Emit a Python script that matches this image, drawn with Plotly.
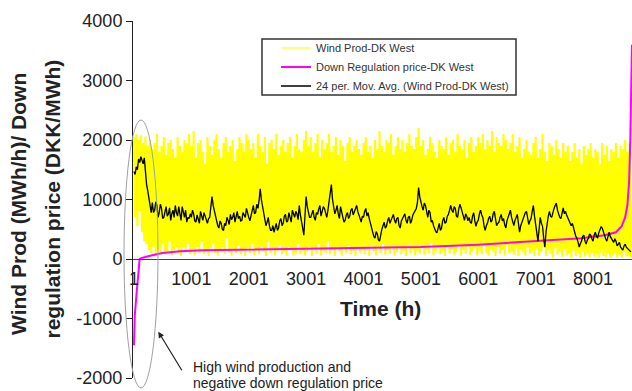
import plotly.graph_objects as go

# ---------------- data ----------------
bin_hours = list(range(1, 8680, 40))  # 40-hour bins across the year

wind_peaks = [
    2050, 2100, 2000, 2080, 1950, 2060, 1900, 2000, 1850, 1950, 2100, 1800, 1900, 2050, 1750, 1950, 2000, 1850, 1700, 2050, 1900, 1800, 2000, 1950, 2100,
    1900, 2150, 1700, 1950, 2000, 1800, 1600, 2050, 1900, 1750, 2000, 2100, 1850, 1700, 1950, 2050, 1800, 1900, 2000, 1650, 1850, 2050, 1950, 1800, 2100,
    2000, 1850, 1950, 1700, 2100, 1900, 1800, 2050, 1600, 1950, 2000, 1850, 2100, 1750, 1900, 2000, 1800, 1950, 2050, 1700, 1900, 2100, 1850, 1800, 2000,
    2150, 1900, 2050, 1800, 1950, 2100, 1700, 2000, 1850, 1950, 2100, 1800, 1900, 2050, 1750, 2000, 1900, 1650, 1950, 2050, 1800, 1900, 2000, 1850, 1750,
    1950, 2050, 1800, 1900, 1700, 2000, 1850, 2150, 1900, 1800, 2000, 1950, 2100, 1750, 1900, 2050, 1850, 2000, 1800, 1950, 2100, 1900, 1850, 2050, 2200,
    1900, 2000, 1750, 1850, 2050, 1950, 1800, 1700, 2000, 1900, 1850, 2050, 1750, 1950, 2000, 1800, 2100, 1900, 1850, 2000, 1700, 1950, 2050, 1800, 1900,
    2050, 1950, 2100, 1850, 2000, 1900, 2150, 1800, 2050, 1950, 1900, 2100, 2000, 1850, 1950, 2100, 1800, 1900, 2050, 1700, 1850, 2000, 1800, 1750, 1950,
    2050, 1700, 1850, 2100, 1800, 1650, 1950, 1900, 1750, 2000, 1850, 1700, 1950, 1800, 1900, 1650, 1800, 1950, 1700, 1850, 1600, 1900, 1750, 1850, 1950,
    1700, 1850, 1800, 1600, 1950, 1750, 1900, 1650, 1850, 1800, 1950, 1700, 1900, 1850, 2000, 1800, 1950,
]

wind_troughs = [
    700, 550, 800, 450, 300, 250, 150, 100, 200, 50, 150, 100, 250, 80, 120, 300, 60, 150, 200, 100, 50, 180, 120, 250, 80,
    150, 60, 200, 100, 300, 80, 120, 50, 180, 250, 100, 60, 150, 200, 80, 350, 120, 60, 150, 100, 220, 80, 140, 50, 180,
    100, 250, 60, 150, 80, 200, 120, 50, 300, 100, 180, 60, 140, 220, 80, 120, 50, 200, 150, 60, 100, 250, 80, 140, 60,
    120, 200, 50, 160, 90, 250, 60, 140, 100, 300, 80, 150, 50, 200, 120, 60, 180, 100, 220, 80, 140, 60, 200, 100, 150,
    80, 160, 50, 220, 120, 60, 180, 100, 250, 70, 150, 90, 200, 60, 120, 180, 80, 140, 50, 220, 100, 160, 60, 130, 90,
    200, 70, 150, 100, 260, 60, 130, 180, 80, 140, 50, 210, 100, 160, 70, 120, 240, 60, 150, 90, 200, 70, 130, 180, 60,
    140, 80, 220, 100, 60, 170, 120, 50, 200, 90, 150, 60, 240, 100, 130, 70, 180, 50, 160, 110, 60, 200, 90, 140, 50,
    170, 60, 120, 200, 50, 150, 90, 30, 180, 70, 120, 40, 160, 60, 100, 30, 140, 50, 90, 20, 120, 40, 80, 30, 100,
    40, 80, 20, 110, 50, 30, 90, 20, 60, 100, 30, 70, 20, 120, 40, 60, 30,
]

# 24-h moving average, read at the start of each bin ...
moving_avg = [
    1470, 1550, 1680, 1720, 1600, 1400, 1150, 850,
    950, 820, 900, 780, 850, 700, 880, 760, 650, 820, 900, 720, 760, 880, 700, 620, 680,
    700, 760, 620, 680, 800, 650, 720, 600, 700, 1050, 800, 650, 520, 600, 480, 560, 650, 750, 700, 620, 800, 720, 650, 750, 850, 700,
    720, 900, 780, 850, 1180, 900, 700, 620, 560, 480, 450, 600, 520, 680, 600, 750, 640, 700, 820, 700, 760, 900, 650, 400, 1050, 800,
    700, 820, 650, 750, 900, 780, 850, 700, 950, 1250, 900, 820, 760, 880, 700, 650, 780, 720, 850, 800, 900, 750, 620, 700, 850, 780,
    600, 450, 350, 420, 300, 500, 620, 550, 700, 650,
    750, 600, 700, 520, 680, 760, 600, 720, 650, 780, 850,
    1200,
    950, 820, 900, 700, 780, 650,
    500, 440, 600, 520, 700, 620, 750,
    900, 780, 850, 700, 920, 800, 650, 720,
    700, 600, 780, 550, 650, 820, 700, 480, 600, 720, 650, 800, 560, 620, 750, 680, 520, 700, 820, 600, 650, 750, 450, 620, 700, 800, 580, 680,
    900, 600, 300, 700, 550, 200, 650, 800, 700, 850, 940, 750, 680, 860, 800, 700, 620,
    600, 450, 350, 200, 300, 400, 250, 350,
    400, 300, 450, 350, 480, 520, 400, 300, 450, 350, 280,
    300, 250, 200, 150, 250, 180, 150,
]
# ... and at the middle of each bin
moving_avg_mid = [
    1420, 1500, 1620, 1650, 1700, 1250, 1000, 780,
    780, 960, 700, 920, 680, 820, 720, 860, 760, 700, 780, 880, 650, 760, 820, 700, 760,
    820, 640, 740, 600, 720, 780, 620, 680, 880, 900, 700, 560, 640, 500, 600, 700, 580, 660, 780, 740, 680, 640, 780, 700, 760, 640,
    820, 760, 920, 980, 1000, 760, 560, 700, 480, 560, 540, 480, 640, 560, 720, 620, 780, 620, 740, 800, 660, 740, 520, 700, 880, 700,
    760, 700, 780, 840, 720, 880, 740, 820, 1100, 1000, 760, 900, 680, 760, 620, 740, 680, 820, 740, 880, 800, 680, 720, 800, 720, 680,
    520, 380, 460, 320, 420, 560, 520, 640, 600, 720,
    660, 680, 560, 640, 720, 650, 700, 600, 740, 820, 950,
    1050,
    880, 940, 760, 820, 620, 560,
    460, 540, 480, 640, 600, 720, 820,
    820, 880, 720, 840, 860, 700, 760, 640,
    620, 720, 640, 620, 760, 740, 560, 560, 680, 620, 760, 680, 600, 700, 640, 580, 640, 780, 700, 560, 720, 600, 560, 680, 780, 660, 640, 800,
    720, 450, 500, 600, 350, 450, 720, 720, 800, 900, 820, 700, 800, 760, 740, 660, 560,
    520, 380, 280, 260, 380, 300, 320, 420,
    340, 400, 380, 440, 540, 450, 340, 400, 380, 300, 340,
    220, 280, 170, 220, 200, 160, 120,
]

price_hours = [1, 5, 15, 40, 70, 100, 150, 300, 500, 800, 1200, 2000, 3000, 4000, 5000,
               6000, 7000, 7800, 8200, 8400, 8500, 8560, 8600, 8630, 8650, 8665, 8680]
price_values = [-1450, -1250, -950, -650, -300, 0, 20, 60, 100, 130, 145, 155, 165, 180, 200,
                240, 300, 350, 400, 450, 550, 700, 900, 1300, 2000, 3000, 3600]

x_tick_vals = [1, 1001, 2001, 3001, 4001, 5001, 6001, 7001, 8001]
x_tick_text = ["1", "1001", "2001", "3001", "4001", "5001", "6001", "7001", "8001"]
y_tick_vals = [-2000, -1000, 0, 1000, 2000, 3000, 4000]
y_tick_text = ["-2000", "-1000", "0", "1000", "2000", "3000", "4000"]

# ---------------- build ----------------
wind_x, wind_y = [], []
for h, p, t in zip(bin_hours, wind_peaks, wind_troughs):
    wind_x += [h, h + 20]
    wind_y += [p, t]

ma_x, ma_y = [], []
for h, a, m in zip(bin_hours, moving_avg, moving_avg_mid):
    ma_x += [h, h + 20]
    ma_y += [a, m]

FONT = "Arial, Liberation Sans, sans-serif"

fig = go.Figure()
# dense wind series (legend entry drawn by a thin-line proxy below)
fig.add_trace(go.Scatter(x=wind_x, y=wind_y, mode="lines", name="Wind Prod-DK West",
                         showlegend=False, hoverinfo="skip",
                         line=dict(color="#FFFF00", width=2.1)))
fig.add_trace(go.Scatter(x=[None], y=[None], mode="lines", name="Wind Prod-DK West",
                         line=dict(color="#FFFF00", width=1.2)))
fig.add_trace(go.Scatter(x=price_hours, y=price_values, mode="lines",
                         name="Down Regulation price-DK West",
                         line=dict(color="#FF00FF", width=2)))
fig.add_trace(go.Scatter(x=ma_x, y=ma_y, mode="lines",
                         name="24 per. Mov. Avg. (Wind Prod-DK West)",
                         line=dict(color="#000000", width=1.3)))

fig.update_layout(
    width=632, height=391,
    margin=dict(l=133, r=0, t=21, b=13),
    paper_bgcolor="white", plot_bgcolor="white",
    font=dict(family=FONT, color="#222"),
    showlegend=True,
    legend=dict(x=(276 - 133) / 499, y=(378 - 33.5) / 357, xanchor="left", yanchor="top",
                bgcolor="rgba(0,0,0,0)", borderwidth=0,
                font=dict(size=11, family=FONT, color="#333"),
                itemwidth=30, tracegroupgap=0),
    xaxis=dict(range=[-16, 8680], anchor="free", position=1/3,
               tickmode="array", tickvals=x_tick_vals, ticktext=x_tick_text,
               showline=True, linecolor="#444", linewidth=1,
               ticks="", ticklabelstandoff=3, showgrid=False, zeroline=False,
               tickfont=dict(size=18, family=FONT, color="#222")),
    yaxis=dict(range=[-2000, 4000], tickmode="array", tickvals=y_tick_vals,
               ticktext=y_tick_text,
               showline=True, linecolor="#222", linewidth=1,
               ticks="outside", ticklen=6, tickcolor="#222",
               showgrid=False, zeroline=False,
               tickfont=dict(size=18, family=FONT, color="#222")),
)

# legend frame
fig.add_shape(type="rect", xref="paper", yref="paper", layer="above",
              x0=(262 - 133) / 499, x1=(516 - 133) / 499,
              y0=(378 - 95) / 357, y1=(378 - 39) / 357,
              line=dict(color="#333", width=1.5), fillcolor="white")

# axis titles
fig.add_annotation(text="<b>Wind Prod (MWh/h)/ Down</b>", textangle=-90,
                   xref="paper", yref="paper", x=(18.5 - 133) / 499, y=(378 - 204.5) / 357,
                   xanchor="center", yanchor="middle",
                   showarrow=False, font=dict(size=21, family=FONT, color="#222"))
fig.add_annotation(text="<b>regulation price (DKK/MWh)</b>", textangle=-90,
                   xref="paper", yref="paper", x=(52 - 133) / 499, y=(378 - 199.5) / 357,
                   xanchor="center", yanchor="middle",
                   showarrow=False, font=dict(size=21, family=FONT, color="#222"))
fig.add_annotation(text="<b>Time (h)</b>", xref="paper", yref="paper",
                   x=(380 - 133) / 499, y=(378 - 308.5) / 357,
                   xanchor="center", yanchor="middle", showarrow=False,
                   font=dict(size=21, family=FONT, color="#222"))

# callout
fig.add_shape(type="circle", xref="paper", yref="paper",
              x0=(124 - 133) / 499, x1=(158 - 133) / 499,
              y0=(378 - 388) / 357, y1=(378 - 120) / 357,
              line=dict(color="#A0A0A0", width=1))
fig.add_annotation(text="", xref="paper", yref="paper",
                   x=(158.3 - 133) / 499, y=(378 - 331.7) / 357,
                   ax=24.4, ay=40, axref="pixel", ayref="pixel",
                   showarrow=True, arrowhead=2, arrowsize=1, arrowwidth=1.2,
                   arrowcolor="#222", standoff=0)
fig.add_annotation(text="High wind production and", xref="paper", yref="paper",
                   x=(190.5 - 133) / 499, y=(378 - 366.7) / 357,
                   xanchor="left", yanchor="middle", showarrow=False,
                   font=dict(size=14, family=FONT, color="#222"))
fig.add_annotation(text="negative down regulation price", xref="paper", yref="paper",
                   x=(190.5 - 133) / 499, y=(378 - 383.3) / 357,
                   xanchor="left", yanchor="middle", showarrow=False,
                   font=dict(size=14, family=FONT, color="#222"))

fig.write_html(
    "out.html",
    config={"displayModeBar": False},
    post_script="document.body.style.margin='0';document.body.style.padding='0';"
                "document.body.style.overflow='hidden';",
)
